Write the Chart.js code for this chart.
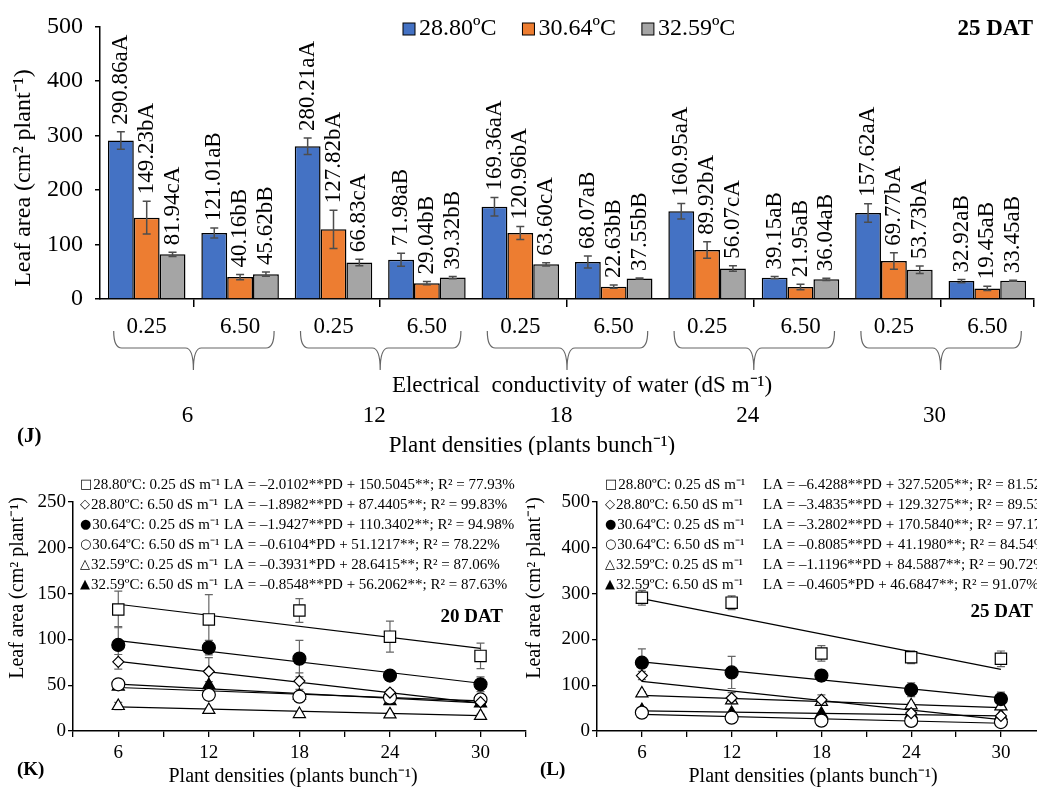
<!DOCTYPE html>
<html>
<head>
<meta charset="utf-8">
<script src="https://cdn.jsdelivr.net/npm/chart.js@4.4.0/dist/chart.umd.min.js"></script>
<style>
  html, body { margin: 0; padding: 0; background: #fff; overflow: hidden; }
  #wrap { position: relative; width: 1037px; height: 787px; overflow: hidden; background: #fff; }
  .box { position: absolute; }
</style>
</head>
<body>
<div id="wrap">
  <div class="box" style="left:0;top:0;width:1037px;height:455px"><canvas id="chartJ"></canvas></div>
  <div class="box" style="left:0;top:455px;width:535px;height:332px"><canvas id="chartK"></canvas></div>
  <div class="box" style="left:520px;top:455px;width:535px;height:332px"><canvas id="chartL"></canvas></div>
</div>
<script>
// ---- (J) bar chart, 25 DAT ----
const conductivity = ['0.25', '6.50', '0.25', '6.50', '0.25', '6.50', '0.25', '6.50', '0.25', '6.50'];
const densities = ['6', '12', '18', '24', '30'];
const temps = ['28.80ºC', '30.64ºC', '32.59ºC'];

const la2880 = [290.86, 121.01, 280.21, 71.98, 169.36, 68.07, 160.95, 39.15, 157.62, 32.92];
const la3064 = [149.23, 40.16, 127.82, 29.04, 120.96, 22.63, 89.92, 21.95, 69.77, 19.45];
const la3259 = [81.94, 45.62, 66.83, 39.32, 63.60, 37.55, 56.07, 36.04, 53.73, 33.45];
const sd2880 = [16, 9, 15, 12, 17, 11, 14, 2, 17, 3];
const sd3064 = [30, 5, 35, 3, 12, 3, 15, 5, 15, 4];
const sd3259 = [4, 4, 6, 2, 3, 1, 5, 2, 7, 1];
const lt2880 = ['aA', 'aB', 'aA', 'aB', 'aA', 'aB', 'aA', 'aB', 'aA', 'aB'];
const lt3064 = ['bA', 'bB', 'bA', 'bB', 'bA', 'bB', 'bA', 'aB', 'bA', 'aB'];
const lt3259 = ['cA', 'bB', 'cA', 'bB', 'cA', 'bB', 'cA', 'aB', 'bA', 'aB'];

// ---- (K) 20 DAT and (L) 25 DAT regressions ----
const pd = [6, 12, 18, 24, 30];
const k2880a = [132.7, 121.8, 131.6, 103.0, 82.0];
const k2880b = [75.5, 65.0, 54.5, 42.0, 31.5];
const k3064a = [94.0, 91.0, 79.0, 60.5, 51.0];
const k3064b = [51.0, 39.5, 37.5, 36.5, 34.5];
const k3259a = [27.3, 23.0, 18.5, 18.2, 16.5];
const k3259b = [48.5, 50.0, 38.5, 32.7, 30.0];
const kErr2880a = [20, 27, 13, 17, 14];
const kErr2880b = [8, 15, 9, 3, 3];
const kErr3064a = [20, 8, 20, 3, 8];
const kErr3064b = [4, 6, 4, 3, 3];
const kErr3259a = [4, 2, 2, 2, 2];
const kErr3259b = [3, 4, 4, 3, 3];
// fitted line ends (PD = 6 and PD = 30)
const kTrend = [[138.4, 90.2], [76.1, 30.5], [98.7, 52.1], [47.5, 32.8], [26.3, 16.8], [51.1, 30.6]];
const lTrend = [[289.0, 134.7], [108.4, 24.8], [150.9, 72.2], [36.3, 16.9], [77.9, 51.0], [43.9, 32.9]];

const seriesNames = ['28.80ºC: 0.25 dS m⁻¹', '28.80ºC: 6.50 dS m⁻¹', '30.64ºC: 0.25 dS m⁻¹',
                     '30.64ºC: 6.50 dS m⁻¹', '32.59ºC: 0.25 dS m⁻¹', '32.59ºC: 6.50 dS m⁻¹'];
const symbols = ['□', '◇', '●', '○', '△', '▲'];
const kEquations = [
  'LA = –2.0102**PD + 150.5045**; R² = 77.93%',
  'LA = –1.8982**PD + 87.4405**; R² = 99.83%',
  'LA = –1.9427**PD + 110.3402**; R² = 94.98%',
  'LA = –0.6104*PD + 51.1217**; R² = 78.22%',
  'LA = –0.3931*PD + 28.6415**; R² = 87.06%',
  'LA = –0.8548**PD + 56.2062**; R² = 87.63%'
];
const lEquations = [
  'LA = –6.4288**PD + 327.5205**; R² = 81.52%',
  'LA = –3.4835**PD + 129.3275**; R² = 89.53%',
  'LA = –3.2802**PD + 170.5840**; R² = 97.17%',
  'LA = –0.8085**PD + 41.1980**; R² = 84.54%',
  'LA = –1.1196**PD + 84.5887**; R² = 90.72%',
  'LA = –0.4605*PD + 46.6847**; R² = 91.07%'
];

Chart.defaults.font.family = '"Liberation Serif", "Times New Roman", serif';
Chart.defaults.color = '#000';

function drawText(ctx, s, x, y, size, opts = {}) {
  ctx.save();
  ctx.font = (opts.bold ? 'bold ' : '') + size + 'px ' + (opts.family || '"Liberation Serif", serif');
  ctx.fillStyle = '#000';
  ctx.textAlign = opts.align || 'center';
  ctx.textBaseline = 'middle';
  ctx.translate(x, y);
  if (opts.rotate) ctx.rotate(opts.rotate);
  ctx.fillText(s, 0, 0);
  const w = ctx.measureText(s).width;
  ctx.restore();
  return w;
}

function drawErr(ctx, x, yTop, yBot, cap, color, lw) {
  ctx.save();
  ctx.strokeStyle = color;
  ctx.lineWidth = lw;
  ctx.beginPath();
  ctx.moveTo(x, yTop); ctx.lineTo(x, yBot);
  ctx.moveTo(x - cap, yTop); ctx.lineTo(x + cap, yTop);
  ctx.moveTo(x - cap, yBot); ctx.lineTo(x + cap, yBot);
  ctx.stroke();
  ctx.restore();
}

// extras for the bar chart: error bars, letters, legend, braces, titles
const barExtras = {
  id: 'barExtras',
  afterDatasetsDraw(chart) {
    const ctx = chart.ctx, y = chart.scales.y;
    chart.data.datasets.forEach((ds, i) => {
      chart.getDatasetMeta(i).data.forEach((bar, j) => {
        const v = ds.data[j], e = ds.sd[j];
        const top = y.getPixelForValue(v + e);
        drawErr(ctx, bar.x, top, y.getPixelForValue(v - e), 4, '#4d4d4d', 1.5);
        drawText(ctx, v.toFixed(2) + ds.letters[j], bar.x, top - 7, 23, { align: 'left', rotate: -Math.PI / 2 });
      });
    });
  },
  afterDraw(chart) {
    const ctx = chart.ctx, x = chart.scales.x;
    // legend
    let lx = 403;
    chart.data.datasets.forEach(ds => {
      ctx.fillStyle = ds.backgroundColor;
      ctx.fillRect(lx, 23, 12, 12);
      ctx.strokeStyle = '#000';
      ctx.lineWidth = 1;
      ctx.strokeRect(lx, 23, 12, 12);
      const w = drawText(ctx, ds.label, lx + 16, 29, 24, { align: 'left' });
      lx += 16 + w + 26;
    });
    drawText(ctx, '25 DAT', 1033, 29, 23, { bold: true, align: 'right' });

    // braces grouping the two conductivities of each density
    ctx.save();
    ctx.strokeStyle = '#666';
    ctx.lineWidth = 1.2;
    densities.forEach((d, k) => {
      const a = x.getPixelForValue(2 * k), b = x.getPixelForValue(2 * k + 1);
      const x0 = a - 33, x1 = b + 34, xc = (a + b) / 2;
      const y0 = 331, ym = 348, yt = 370, r = 8;
      ctx.beginPath();
      ctx.moveTo(x0, y0);
      ctx.quadraticCurveTo(x0, ym, x0 + r, ym);
      ctx.lineTo(xc - r, ym);
      ctx.quadraticCurveTo(xc, ym, xc, yt);
      ctx.quadraticCurveTo(xc, ym, xc + r, ym);
      ctx.lineTo(x1 - r, ym);
      ctx.quadraticCurveTo(x1, ym, x1, y0);
      ctx.stroke();
      drawText(ctx, d, xc - 6, 416, 23);
    });
    ctx.restore();

    drawText(ctx, 'Electrical  conductivity of water (dS m⁻¹)', 582, 386, 23);
    drawText(ctx, 'Plant densities (plants bunch⁻¹)', 532, 446, 23);
    drawText(ctx, '(J)', 17, 437, 21, { bold: true, align: 'left' });
    drawText(ctx, 'Leaf area (cm² plant⁻¹)', 24, 178, 24, { rotate: -Math.PI / 2 });
  }
};

new Chart(document.getElementById('chartJ'), {
  type: 'bar',
  data: {
    labels: conductivity,
    datasets: [
      { label: temps[0], data: la2880, sd: sd2880, letters: lt2880, backgroundColor: '#4472C4', borderColor: '#000', borderWidth: 1.5 },
      { label: temps[1], data: la3064, sd: sd3064, letters: lt3064, backgroundColor: '#ED7D31', borderColor: '#000', borderWidth: 1.5 },
      { label: temps[2], data: la3259, sd: sd3259, letters: lt3259, backgroundColor: '#A5A5A5', borderColor: '#000', borderWidth: 1.5 }
    ]
  },
  options: {
    responsive: true,
    maintainAspectRatio: false,
    animation: false,
    layout: { padding: { top: 21, right: 3, bottom: 0, left: 0 } },
    datasets: { bar: { barPercentage: 1, categoryPercentage: 0.83 } },
    plugins: { legend: { display: false }, tooltip: { enabled: false } },
    scales: {
      x: {
        grid: {
          display: true, drawOnChartArea: false, offset: true, tickLength: 8, lineWidth: 1.5,
          color: c => (c.index === undefined || c.index % 2 === 1) ? '#000' : 'rgba(0,0,0,0)'
        },
        border: { color: '#000', width: 1.5 },
        ticks: { font: { size: 23 }, padding: 6, autoSkip: false, maxRotation: 0 },
        afterFit: s => { s.height = 156; }
      },
      y: {
        min: 0, max: 500,
        ticks: { stepSize: 100, font: { size: 24 }, padding: 12 },
        grid: { drawOnChartArea: false, tickLength: 5, color: '#000', lineWidth: 1.5 },
        border: { color: '#000', width: 1.5 },
        afterFit: s => { s.width = 100; }
      }
    }
  },
  plugins: [barExtras]
});

// ---- scatter panels ----
const markers = [
  { style: 'rect', radius: 8, fill: '#fff' },
  { style: 'rectRot', radius: 5.5, fill: '#fff' },
  { style: 'circle', radius: 6.5, fill: '#000' },
  { style: 'circle', radius: 6.5, fill: '#fff' },
  { style: 'triangle', radius: 7, fill: '#fff' },
  { style: 'triangle', radius: 7, fill: '#000' }
];

const even = arr => arr.filter((_, i) => i % 2 === 0);
const odd = arr => arr.filter((_, i) => i % 2 === 1);

function makePanel(id, p) {
  const datasets = [];
  p.values.forEach((vals, i) => {
    datasets.push({
      label: seriesNames[i],
      data: pd.map((x, j) => ({ x: x, y: vals[j] })),
      sd: p.errors[i],
      pointStyle: markers[i].style,
      pointRadius: markers[i].radius,
      pointBackgroundColor: markers[i].fill,
      pointBorderColor: '#000',
      pointBorderWidth: 1.2,
      showLine: false
    });
  });
  p.trends.forEach(t => {
    datasets.push({
      data: [{ x: 6, y: t[0] }, { x: 30, y: t[1] }],
      showLine: true, pointRadius: 0, borderColor: '#000', borderWidth: 1.2
    });
  });

  const extras = {
    id: 'panelExtras',
    beforeDatasetsDraw(chart) {
      const ctx = chart.ctx, y = chart.scales.y;
      chart.data.datasets.forEach((ds, i) => {
        if (!ds.sd) return;
        chart.getDatasetMeta(i).data.forEach((pt, j) => {
          const v = ds.data[j].y, e = ds.sd[j];
          drawErr(ctx, pt.x, y.getPixelForValue(v + e), y.getPixelForValue(v - e), 4, '#666', 1.2);
        });
      });
    },
    afterDraw(chart) {
      const ctx = chart.ctx;
      const rows = [30, 50, 70, 90, 110, 130];
      rows.forEach((ry, i) => {
        const sw = drawText(ctx, symbols[i], p.legendX, ry, 13, { align: 'left', family: '"DejaVu Sans", sans-serif' });
        drawText(ctx, seriesNames[i], p.legendX + sw + 1, ry, 15, { align: 'left' });
        drawText(ctx, p.equations[i], p.eqX, ry, 15, { align: 'left' });
      });
      drawText(ctx, p.dat, p.datX, p.datY, 19, { bold: true, align: 'right' });
      drawText(ctx, 'Plant densities (plants bunch⁻¹)', 293, 322, 20);
      drawText(ctx, p.tag, p.tagX, 315, 19, { bold: true, align: 'left' });
      drawText(ctx, 'Leaf area (cm² plant⁻¹)', p.titleX, 133, 20, { rotate: -Math.PI / 2 });
    }
  };

  return new Chart(document.getElementById(id), {
    type: 'scatter',
    data: { datasets: datasets },
    options: {
      responsive: true,
      maintainAspectRatio: false,
      animation: false,
      layout: { padding: { top: 47, right: p.padRight, bottom: 0, left: 0 } },
      plugins: { legend: { display: false }, tooltip: { enabled: false } },
      scales: {
        x: {
          type: 'linear', min: 3, max: 33,
          ticks: { stepSize: 3, autoSkip: false, maxRotation: 0, font: { size: 19 }, padding: 5,
                   callback: v => (v % 6 === 0 ? String(v) : '') },
          grid: { drawOnChartArea: false, tickLength: 6, color: '#000', lineWidth: 1.3 },
          border: { color: '#000', width: 1.5 },
          afterFit: s => { s.height = 56; }
        },
        y: {
          min: 0, max: p.yMax,
          ticks: { stepSize: p.yStep, font: { size: 19 }, padding: 2 },
          grid: { drawOnChartArea: false, tickLength: 5, color: '#000', lineWidth: 1.3 },
          border: { color: '#000', width: 1.5 },
          afterFit: s => { s.width = p.axisLeft; }
        }
      }
    },
    plugins: [extras]
  });
}

makePanel('chartK', {
  values: [k2880a, k2880b, k3064a, k3064b, k3259a, k3259b],
  errors: [kErr2880a, kErr2880b, kErr3064a, kErr3064b, kErr3259a, kErr3259b],
  trends: kTrend, equations: kEquations,
  yMax: 250, yStep: 50, axisLeft: 73, padRight: 7,
  legendX: 80, eqX: 224, dat: '20 DAT', datX: 503, datY: 162,
  tag: '(K)', tagX: 17, titleX: 18
});

makePanel('chartL', {
  values: [even(la2880), odd(la2880), even(la3064), odd(la3064), even(la3259), odd(la3259)],
  errors: [even(sd2880), odd(sd2880), even(sd3064), odd(sd3064), even(sd3259), odd(sd3259)],
  trends: lTrend, equations: lEquations,
  yMax: 500, yStep: 100, axisLeft: 77, padRight: 5,
  legendX: 85, eqX: 243, dat: '25 DAT', datX: 513, datY: 157,
  tag: '(L)', tagX: 20, titleX: 15
});
</script>
</body>
</html>
